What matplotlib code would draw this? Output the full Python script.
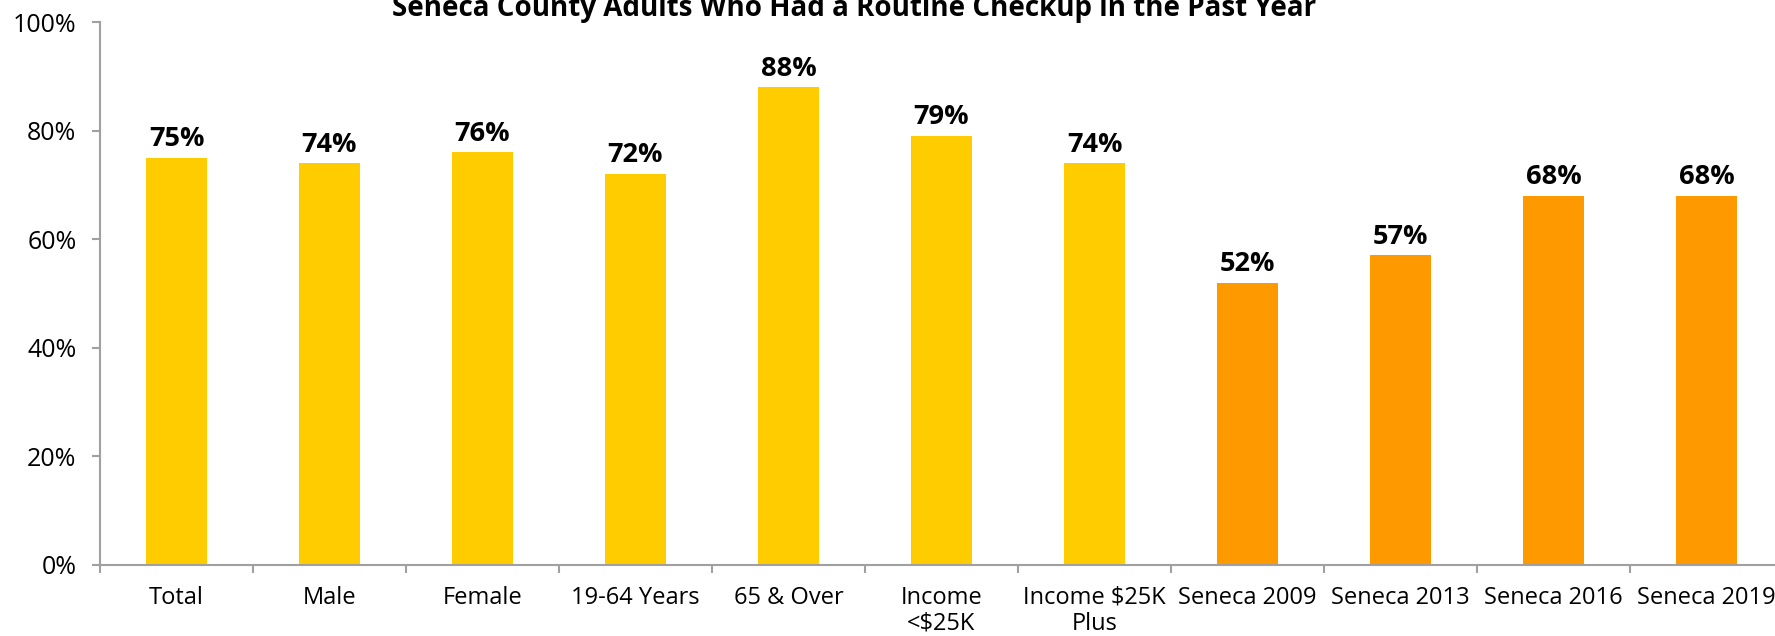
import matplotlib
matplotlib.use("Agg")
import matplotlib.pyplot as plt
import numpy as np

plt.rcParams['font.family'] = ['Open Sans', 'DejaVu Sans']

categories = ["Total", "Male", "Female", "19-64 Years", "65 & Over",
              "Income\n<$25K", "Income $25K\nPlus", "Seneca 2009",
              "Seneca 2013", "Seneca 2016", "Seneca 2019"]
values = [75, 74, 76, 72, 88, 79, 74, 52, 57, 68, 68]
groups = ["demo"] * 7 + ["trend"] * 4
color_map = {"demo": "#FFCC00", "trend": "#FF9900"}
yticks = [0, 20, 40, 60, 80, 100]
ytick_labels = ["0%", "20%", "40%", "60%", "80%", "100%"]
title = "Seneca County Adults Who Had a Routine Checkup in the Past Year"

W, H = 1775, 636
fig = plt.figure(figsize=(W / 100, H / 100), dpi=100)
ax = fig.add_axes([100 / W, (H - 565) / H, 1683 / W, 543 / H])

x = np.arange(len(categories))
colors = [color_map[g] for g in groups]
bars = ax.bar(x, values, width=0.4, color=colors, zorder=2)

for xi, v in zip(x, values):
    ax.annotate(f"{v}%", (xi, v), xytext=(0, 4), textcoords="offset points",
                ha="center", va="bottom", fontsize=19.5, fontweight="bold",
                color="black")

ax.set_xlim(-0.5, len(categories) - 0.5)
ax.set_ylim(0, 100)
ax.set_yticks(yticks)
ax.set_yticklabels(ytick_labels, fontsize=18)

ax.set_xticks(np.arange(len(categories) + 1) - 0.5)
ax.set_xticklabels([])
ax.set_xticks(x, minor=True)
ax.set_xticklabels(categories, minor=True, fontsize=17, linespacing=1.1)
ax.tick_params(axis="x", which="minor", length=0, pad=15)
ax.tick_params(axis="x", which="major", length=6, width=1.5, color="#A0A0A0", direction="out")
ax.tick_params(axis="y", length=6, width=1.5, color="#A0A0A0", pad=11)

for s in ["top", "right"]:
    ax.spines[s].set_visible(False)
for s in ["left", "bottom"]:
    ax.spines[s].set_color("#A0A0A0")
    ax.spines[s].set_linewidth(1.5)

fig.text(854 / W, 1 - 16 / H, title, ha="center", va="baseline",
         fontsize=20, fontweight="bold")

fig.savefig("out.png", dpi=100)
